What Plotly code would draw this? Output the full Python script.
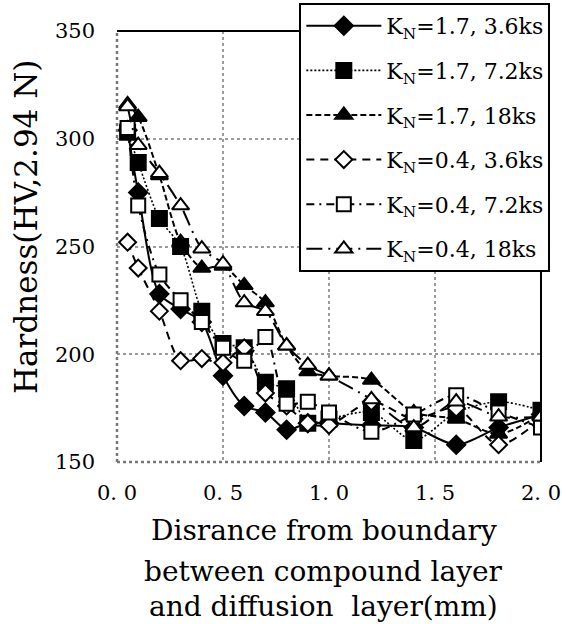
import plotly.graph_objects as go

x_mm = [0.05, 0.1, 0.2, 0.3, 0.4, 0.5, 0.6, 0.7, 0.8, 0.9, 1.0, 1.2, 1.4, 1.6, 1.8, 2.0]

kn17_36 = [304, 275, 228, 221, 215, 190, 176, 173, 165, 168, 168, 167, 166, 158, 166, 172]
kn17_72 = [303, 289, 263, 250, 220, 205, 203, 187, 184, 168, 170, 173, 160, 173, 178, 174]
kn17_18 = [316, 310, 283, 252, 240, 241, 232, 224, 204, 192, 190, 188, 173, 170, 163, 172]
kn04_36 = [252, 240, 220, 197, 198, 196, 203, 182, 176, 168, 167, 178, 170, 175, 158, 170]
kn04_72 = [305, 269, 237, 225, 215, 203, 197, 208, 177, 178, 173, 164, 172, 181, 173, 166]
kn04_18 = [315, 297, 284, 269, 249, 242, 224, 220, 204, 195, 190, 179, 166, 178, 171, 171]

names = ["K<sub>N</sub>=1.7, 3.6ks", "K<sub>N</sub>=1.7, 7.2ks", "K<sub>N</sub>=1.7, 18ks",
         "K<sub>N</sub>=0.4, 3.6ks", "K<sub>N</sub>=0.4, 7.2ks", "K<sub>N</sub>=0.4, 18ks"]

x_tickvals = [0.0, 0.5, 1.0, 1.5, 2.0]
x_ticktext = ["0. 0", "0. 5", "1. 0", "1. 5", "2. 0"]
y_tickvals = [150, 200, 250, 300, 350]

x_title_lines = ["Disrance from boundary", "between compound layer", "and diffusion  layer(mm)"]
y_title = "Hardness(HV,2.94 N)"

series = [kn17_36, kn17_72, kn17_18, kn04_36, kn04_72, kn04_18]
symbols = ["diamond", "square", "triangle-up", "diamond", "square", "triangle-up"]
fills = ["black", "black", "black", "white", "white", "white"]
sizes = [14, 15, 15, 13, 14, 15]
dashes = ["solid", "2px,2px", "6px,3px", "8px,6px", "8px,5px,2px,5px", "16px,6px,2px,6px"]
widths = [2, 1.6, 2, 2, 2, 2]

SERIF = "DejaVu Serif, Liberation Serif, serif"

fig = go.Figure()
for i, ys in enumerate(series):
    fig.add_trace(go.Scatter(
        x=x_mm, y=ys, name=names[i], mode="lines+markers",
        legendgroup=f"g{i}",
        line=dict(color="black", width=widths[i], dash=dashes[i], shape="spline", smoothing=0.8),
        marker=dict(symbol=symbols[i], size=sizes[i], color=fills[i],
                    line=dict(color="black", width=2)),
    ))

fig.update_layout(
    width=562, height=624,
    margin=dict(l=117, r=21, t=31, b=162, autoexpand=False),
    paper_bgcolor="white", plot_bgcolor="white",
    font=dict(family=SERIF, color="black", size=21),
    showlegend=True,
    legend=dict(x=0.43, y=1.065, xanchor="left", yanchor="top",
                bgcolor="white", bordercolor="black", borderwidth=2,
                font=dict(family=SERIF, size=22, color="black"),
                itemwidth=75, tracegroupgap=13),
    xaxis=dict(range=[0, 2.0], tickvals=x_tickvals, ticktext=x_ticktext,
               showgrid=True, gridcolor="#9a9a9a", griddash="dot", gridwidth=2,
               zeroline=False, showline=False, ticks="", ticklabelstandoff=16,
               tickfont=dict(family=SERIF, size=21)),
    yaxis=dict(range=[150, 350], tickvals=y_tickvals,
               showgrid=True, gridcolor="#9a9a9a", griddash="dot", gridwidth=2,
               zeroline=False, showline=False, ticks="", ticklabelstandoff=21,
               tickfont=dict(family=SERIF, size=21)),
)

# plot frame: dotted left/bottom, solid top/right
fig.add_shape(type="line", xref="paper", yref="paper", x0=0, x1=0, y0=0, y1=1,
              line=dict(color="#777777", width=2.5, dash="dot"))
fig.add_shape(type="line", xref="paper", yref="paper", x0=0, x1=1, y0=0, y1=0,
              line=dict(color="#777777", width=2.5, dash="dot"))
fig.add_shape(type="line", xref="paper", yref="paper", x0=0, x1=1, y0=1, y1=1,
              line=dict(color="black", width=2))
fig.add_shape(type="line", xref="paper", yref="paper", x0=1, x1=1, y0=0, y1=1,
              line=dict(color="black", width=2))

fig.add_annotation(text=y_title, xref="paper", yref="paper",
                   x=-0.215, y=0.545, textangle=-90, showarrow=False,
                   xanchor="center", yanchor="middle",
                   font=dict(family=SERIF, size=31, color="black"))
for line_txt, ypos in zip(x_title_lines, [-0.158, -0.253, -0.336]):
    fig.add_annotation(text=line_txt, xref="paper", yref="paper", x=0.488, y=ypos,
                       xanchor="center", yanchor="middle", showarrow=False,
                       font=dict(family=SERIF, size=28, color="black"))

fig.write_html("out.html")
